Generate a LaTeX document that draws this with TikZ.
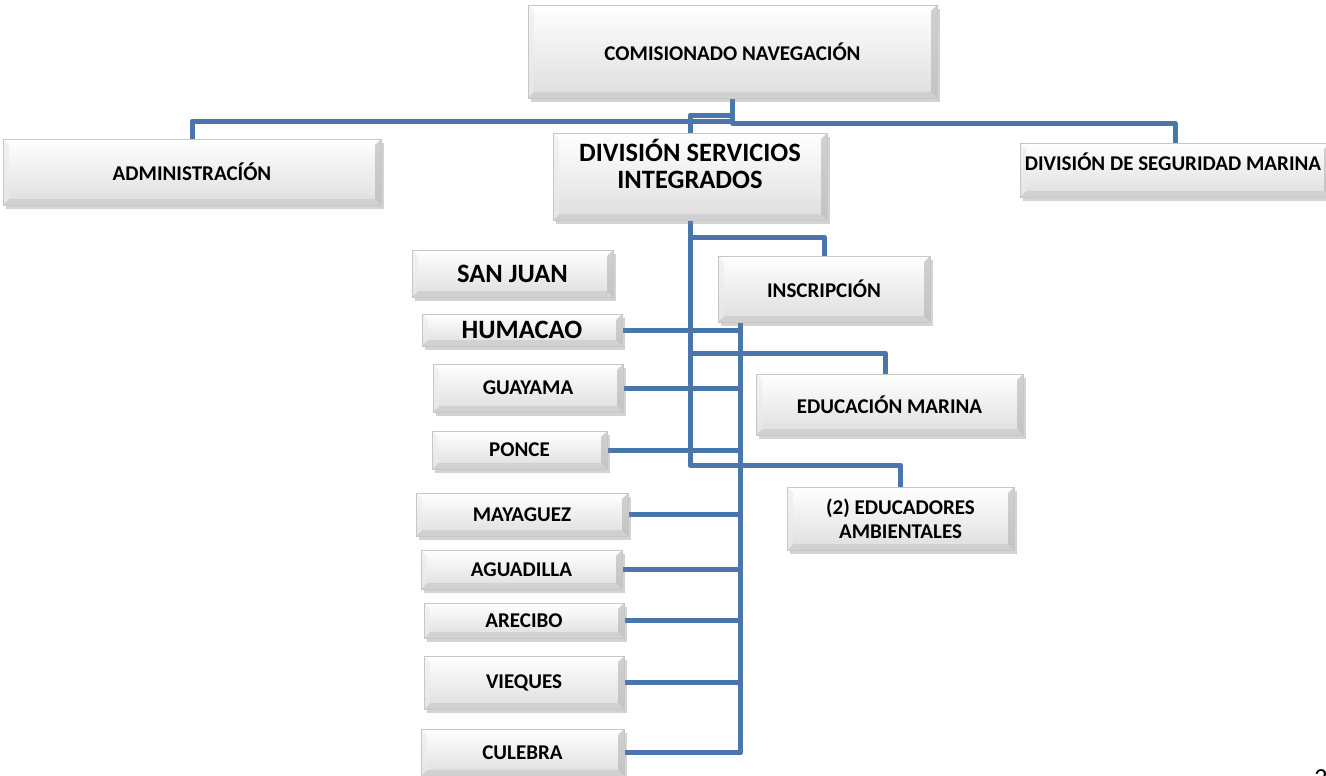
\documentclass[tikz,border=0pt]{standalone}
\usepackage{fontspec}
\setmainfont{Carlito}
\usetikzlibrary{calc,shadows,backgrounds}
\definecolor{linkblue}{RGB}{74,118,172}

\begin{document}
\begin{tikzpicture}[x=1pt, y=-1pt,
    box/.style={draw=black!22, top color=white, bottom color=black!13, inner sep=0pt, align=center,
      font=\bfseries\fontsize{21}{24}\selectfont,
      drop shadow={shadow xshift=3pt, shadow yshift=-4pt, opacity=.35},
      path picture={
        \fill[black!30, opacity=.6] (path picture bounding box.north east) -- ++(-6pt,-6pt)
          -- ([xshift=-6pt,yshift=6pt]path picture bounding box.south east) -- (path picture bounding box.south east) -- cycle;
        \fill[black!22, opacity=.6] (path picture bounding box.south west) -- ++(6pt,6pt)
          -- ([xshift=-6pt,yshift=6pt]path picture bounding box.south east) -- (path picture bounding box.south east) -- cycle;
        \fill[black!8, opacity=.6] (path picture bounding box.north west) -- ++(6pt,-6pt)
          -- ([xshift=6pt,yshift=6pt]path picture bounding box.south west) -- (path picture bounding box.south west) -- cycle;
      }},
    bigbox/.style={box, font=\bfseries\fontsize{26.5}{27}\selectfont},
    link/.style={draw=linkblue, line width=5pt, line join=round}]
  \useasboundingbox (0,0) rectangle (1326,776);

  % top levels
  \node[box, minimum width=409pt, minimum height=93pt] (com) at (732.5,51.5) {COMISIONADO NAVEGACIÓN};
  \node[box, minimum width=378pt, minimum height=66pt] (adm) at (192,172) {ADMINISTRACÍÓN};
  \node[box, minimum width=274pt, minimum height=87pt] (dsi) at (690,176.5) {};
  \node[font=\bfseries\fontsize{26.5}{27}\selectfont, align=center] (dsitxt) at ([yshift=13pt]dsi.center) {DIVISIÓN SERVICIOS\\INTEGRADOS};
  \node[box, minimum width=310pt, minimum height=54pt] (dsm) at (1175,170) {};
  \node[font=\bfseries\fontsize{21}{24}\selectfont] (dsmtxt) at ([yshift=8pt]1173,170) {DIVISIÓN DE SEGURIDAD MARINA};

  % right column
  \node[box, minimum width=212pt, minimum height=66pt] (insc) at (824,289) {INSCRIPCIÓN};
  \node[box, minimum width=267pt, minimum height=61pt] (edumar) at (889.5,404.5) {EDUCACIÓN MARINA};
  \node[box, minimum width=227pt, minimum height=63pt] (educ) at (900.5,518.5) {(2) EDUCADORES\\AMBIENTALES};

  % regions
  \node[bigbox, minimum width=201pt, minimum height=47pt] (sanjuan) at (512.5,273.5) {SAN JUAN};
  \node[bigbox, minimum width=200pt, minimum height=32pt] (humacao) at (522,330) {HUMACAO};
  \node[box, minimum width=190pt, minimum height=48pt] (guayama) at (528,388) {GUAYAMA};
  \node[box, minimum width=175pt, minimum height=38pt] (ponce) at (519.5,450) {PONCE};
  \node[box, minimum width=212pt, minimum height=43pt] (mayaguez) at (522,514.5) {MAYAGUEZ};
  \node[box, minimum width=201pt, minimum height=39pt] (aguadilla) at (521.5,569.5) {AGUADILLA};
  \node[box, minimum width=200pt, minimum height=35pt] (arecibo) at (524,620.5) {ARECIBO};
  \node[box, minimum width=200pt, minimum height=53pt] (vieques) at (524,682.5) {VIEQUES};
  \node[box, minimum width=203pt, minimum height=47pt] (culebra) at (522.5,752.5) {CULEBRA};

  \node[font=\fontsize{26}{26}\selectfont, anchor=north, inner sep=0pt] (pgnum) at (1321,769) {2};

  \begin{scope}[on background layer]
    \draw[link] (com.south) -- ++(0,23) -| (adm.north);
    \draw[link] (com.south) -- ++(0,17) -| (dsi.north);
    \draw[link] (com.south) -- ++(0,25) -| (dsm.north);

    \draw[link] (dsi.south) -- ++(0,17) -| (insc.north);
    \draw[link] (dsi.south) -- ++(0,133) -| ([xshift=-4pt]edumar.north);
    \draw[link] (dsi.south) -- ++(0,245) -| (educ.north);

    \coordinate (itop) at ($(insc.south west)+(23,0)$);
    \draw[link] (itop) |- (culebra.east);
    \foreach \b in {humacao,guayama,ponce,mayaguez,aguadilla,arecibo,vieques}
      \draw[link] (\b.east) -- (\b.east -| itop);
  \end{scope}
\end{tikzpicture}
\end{document}
